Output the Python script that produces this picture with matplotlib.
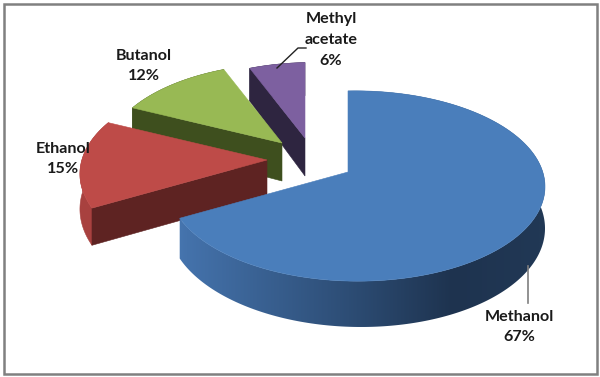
import numpy as np
import matplotlib
matplotlib.use("Agg")
import matplotlib.pyplot as plt
from matplotlib.colors import to_rgb
from matplotlib.patches import Polygon, Rectangle

labels = ["Methanol\n67%", "Ethanol\n15%", "Butanol\n12%", "Methyl\nacetate\n6%"]
shares = [67, 15, 12, 6]

top_colors = ["#4A7EBB", "#BE4B48", "#98B954", "#7D60A0"]
cut_colors = ["#1F3552", "#5E2322", "#3E4F1E", "#2E2540"]
wall_colors = ["#1F3552", "#A8413F", "#3E4F1E", "#2E2540"]

# apex of each slice in pixels, size and thickness (exploded pie)
apex = [(348, 172), (267, 160), (282, 143), (305, 138)]
scale = [1.0, 1.04, 0.98, 0.93]
depth = [39, 36, 38, 38]
label_pos = [(519, 327), (63, 159), (144, 66), (331, 40)]

A, B = 186, 93
P, Q = 0.147, 0.045


def project(phi, r=1.0):
    # phi clockwise from 12 o'clock, fake perspective like the excel 3d pie
    x = r * np.sin(phi)
    z = -r * np.cos(phi)
    w = 1 - P * z - Q * x
    return A * x / w, B * z / w, 1 / w


def blue_wall(t):
    stops = [-1.0, -0.85, 0.0, 0.55, 1.0]
    cols = np.array([to_rgb(c) for c in ["#4A7CB8", "#4472AB", "#2D4D75", "#1E334F", "#213855"]])
    return np.stack([np.interp(t, stops, cols[:, i]) for i in range(3)], axis=-1)


fig = plt.figure(figsize=(6, 3.77), dpi=100)
ax = fig.add_axes([0, 0, 1, 1])

ax.add_patch(Rectangle((3.5, 3.5), 593, 370.5, fill=False, ec="#808080", lw=1.8))

edges = np.radians(np.concatenate([[0], np.cumsum(shares)]) * 3.6)

# back slices first, methanol goes on top
for i in [3, 2, 1, 0]:
    cx, cy = apex[i]
    s = scale[i]
    phi = np.linspace(edges[i], edges[i + 1], 240)
    px, py, pw = project(phi)
    xs = cx + s * px
    ys = cy + s * py
    d = depth[i] * pw

    # outer wall
    wall = list(zip(xs, ys)) + list(zip(xs[::-1], (ys + d)[::-1]))
    if i == 0:
        # shaded side of the big slice: gradient image clipped to the wall
        gx = np.linspace(xs.min() - 2, xs.max() + 2, 400)
        grad = blue_wall((gx - cx) / 190.0)[np.newaxis, :, :]
        clip = Polygon(wall, closed=True, fc="none", ec="none", transform=ax.transData)
        ax.add_patch(clip)
        im = ax.imshow(grad, extent=[gx[0], gx[-1], (ys + d).max() + 2, ys.min() - 2],
                       aspect="auto", zorder=i * -10 + 1)
        im.set_clip_path(clip)
    else:
        ax.add_patch(Polygon(wall, closed=True, fc=wall_colors[i], ec=wall_colors[i],
                             lw=0.4, zorder=i * -10 + 1))

    # cut face, only the ones turned to the viewer
    if i > 0:
        k = 0
        quad = [(cx, cy), (xs[k], ys[k]), (xs[k], ys[k] + d[k]), (cx, cy + depth[i])]
        ax.add_patch(Polygon(quad, closed=True, fc=cut_colors[i], ec=cut_colors[i],
                             lw=0.4, zorder=i * -10 + 2))

    top = [(cx, cy)] + list(zip(xs, ys))
    ax.add_patch(Polygon(top, closed=True, fc=top_colors[i], ec=top_colors[i],
                         lw=0.4, zorder=i * -10 + 3))

ax.plot([528, 528], [266, 303], color="#7F7F7F", lw=1.2, zorder=10)
ax.plot([277, 298, 306], [68, 48, 48], color="#222222", lw=1.0, zorder=10)

for lab, (lx, ly) in zip(labels, label_pos):
    ax.text(lx, ly, lab, ha="center", va="center", family="Lato", weight="bold",
            fontsize=11.6, color="#1A1A1A", linespacing=1.62, zorder=20)

ax.set_xlim(0, 600)
ax.set_ylim(377, 0)
ax.axis("off")

fig.savefig("out.png", dpi=100)
